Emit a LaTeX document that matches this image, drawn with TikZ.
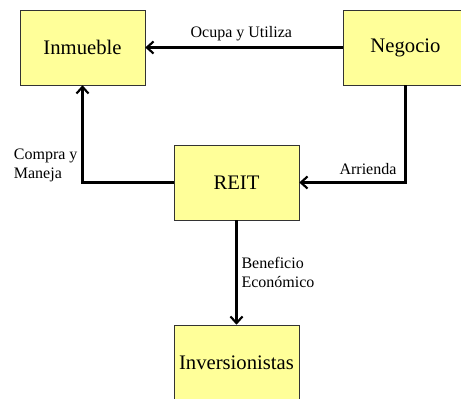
\documentclass[tikz,border=0pt]{standalone}
\usepackage{fontspec}
\setmainfont{Liberation Serif}
\usetikzlibrary{arrows.meta, positioning, calc}
\definecolor{boxfill}{HTML}{FFFF99}

\begin{document}
\begin{tikzpicture}[x=0.75pt, y=0.75pt, >={Straight Barb[length=5pt, width=9pt]},
  box/.style={draw=black!80, fill=boxfill, minimum width=93.75pt, minimum height=56.25pt, inner sep=0pt, font=\fontsize{15.5}{18}\selectfont},
  link/.style={->, line width=1.6pt},
  lbl/.style={font=\fontsize{12}{14}\selectfont, inner sep=1pt}]
\useasboundingbox (0,0) rectangle (461,399);

\node[box] (inm) at (82.5,351.5) {Inmueble};
\node[box] (neg) at (405.5,351.5) {Negocio};
\node[box] (reit) at (236.5,216.5) {REIT};
\node[box] (inv) at (236.5,36.5) {Inversionistas};

\draw[link] (neg) -- (inm) node[lbl, midway, above=3pt, xshift=-2pt] {Ocupa y Utiliza};
\draw[link] (neg.south) |- (reit.east) node[lbl, pos=0.5, anchor=south east, xshift=-5pt, yshift=4pt] {Arrienda};
\draw[link] (reit.west) -| (inm.south) node[lbl, pos=0.5, anchor=south east, align=left, xshift=-2pt, yshift=-1pt] {Compra y\\Maneja};
\draw[link] (reit) -- (inv) node[lbl, midway, right=2pt, align=left] {Beneficio\\Económico};
\end{tikzpicture}
\end{document}
